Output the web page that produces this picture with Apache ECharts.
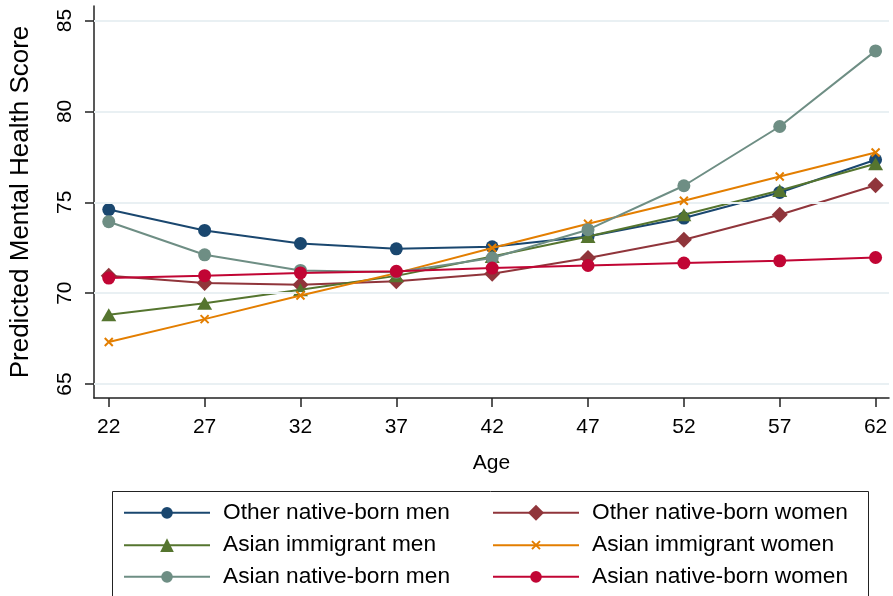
<!DOCTYPE html>
<html>
<head>
<meta charset="utf-8">
<script src="https://cdn.jsdelivr.net/npm/echarts@6/dist/echarts.min.js"></script>
<style>
  html, body { margin: 0; padding: 0; background: #fff; }
  #chart { width: 893px; height: 596px; }
</style>
</head>
<body>
<div id="chart"></div>
<script>
// Ages at which predicted scores are evaluated
const ages = [22, 27, 32, 37, 42, 47, 52, 57, 62];
const yTicks = [65, 70, 75, 80, 85];

// Predicted mental health score by group
const otherNativeMen   = [74.6, 73.45, 72.73, 72.44, 72.55, 73.12, 74.13, 75.54, 77.34];
const otherNativeWomen = [70.96, 70.56, 70.46, 70.65, 71.07, 71.93, 72.94, 74.31, 75.94];
const asianImmMen      = [68.81, 69.45, 70.19, 70.95, 72.02, 73.12, 74.31, 75.65, 77.12];
const asianImmWomen    = [67.31, 68.57, 69.87, 71.1, 72.48, 73.82, 75.08, 76.42, 77.74];
const asianNativeMen   = [73.93, 72.11, 71.25, 71.15, 71.93, 73.49, 75.91, 79.17, 83.33];
const asianNativeWomen = [70.83, 70.96, 71.11, 71.2, 71.38, 71.52, 71.66, 71.78, 71.96];

const FONT = 'Liberation Sans, Arial, sans-serif';

function pairs(vals) {
  return ages.map((a, i) => [a, vals[i]]);
}

// keyHeight controls the marker size drawn in the legend key
const groups = [
  { name: 'Other native-born men',   data: otherNativeMen,   color: '#1a476f', symbol: 'circle',   size: 13, keyHeight: 14.5 },
  { name: 'Other native-born women', data: otherNativeWomen, color: '#90353b', symbol: 'diamond',  size: 16, keyHeight: 20 },
  { name: 'Asian immigrant men',     data: asianImmMen,      color: '#55752f', symbol: 'triangle', size: [15, 13], keyHeight: 17 },
  { name: 'Asian immigrant women',   data: asianImmWomen,    color: '#e37e00', symbol: 'path://M0,0L10,10M0,10L10,0', size: 8, cross: true, keyHeight: 10 },
  { name: 'Asian native-born men',   data: asianNativeMen,   color: '#6e8e84', symbol: 'circle',   size: 13, keyHeight: 14.5 },
  { name: 'Asian native-born women', data: asianNativeWomen, color: '#c10534', symbol: 'circle',   size: 13, keyHeight: 14.5 }
];

const series = [
  // light horizontal gridlines at the y tick values
  {
    type: 'line',
    name: '_grid',
    data: [],
    z: 1,
    silent: true,
    markLine: {
      silent: true,
      symbol: 'none',
      label: { show: false },
      lineStyle: { color: '#e9f0f3', width: 2, type: 'solid' },
      data: yTicks.map(v => ({ yAxis: v }))
    }
  }
].concat(groups.map((g, i) => ({
  type: 'line',
  name: g.name,
  data: pairs(g.data),
  z: 2 + i,
  symbol: g.symbol,
  symbolSize: g.size,
  showSymbol: true,
  lineStyle: { color: g.color, width: 2 },
  itemStyle: g.cross
    ? { color: g.color, borderColor: g.color, borderWidth: 2 }
    : { color: g.color, borderWidth: 0 },
  emphasis: { disabled: true }
})));

// legend: two columns of three rows, one entry per component
const legendCols = [123, 492];
const legendRows = [512.7, 545, 576.7];
const FS = 22.7;
const legends = groups.map((g, i) => ({
  left: legendCols[i % 2],
  top: legendRows[Math.floor(i / 2)] - FS / 2,
  padding: 0,
  itemWidth: 86,
  itemHeight: g.keyHeight,
  selectedMode: false,
  textStyle: { fontFamily: FONT, fontSize: FS, color: '#000', lineHeight: FS, padding: [0, 0, 0, 8] },
  data: [g.name]
}));

const option = {
  animation: false,
  backgroundColor: '#fff',
  grid: { left: 94, right: 4, top: 6, bottom: 596 - 398, containLabel: false },
  xAxis: {
    type: 'value',
    min: 21.23,
    max: 62.7,
    name: 'Age',
    nameLocation: 'middle',
    nameGap: 55,
    nameTextStyle: { fontFamily: FONT, fontSize: 21, color: '#000' },
    axisLine: { show: true, lineStyle: { color: '#222', width: 1.5 } },
    axisTick: { show: true, length: 9, customValues: ages, lineStyle: { color: '#222', width: 1.5 } },
    axisLabel: { customValues: ages, margin: 19, fontFamily: FONT, fontSize: 21, color: '#000' },
    splitLine: { show: false }
  },
  yAxis: {
    type: 'value',
    min: 64.23,
    max: 85.8,
    name: 'Predicted Mental Health Score',
    nameLocation: 'middle',
    nameGap: 60,
    nameTextStyle: { fontFamily: FONT, fontSize: 26, color: '#000' },
    axisLine: { show: true, lineStyle: { color: '#222', width: 1.5 } },
    axisTick: { show: true, length: 9, customValues: yTicks, lineStyle: { color: '#222', width: 1.5 } },
    axisLabel: { customValues: yTicks, rotate: 90, margin: 18, fontFamily: FONT, fontSize: 21, color: '#000' },
    splitLine: { show: false }
  },
  legend: legends,
  graphic: [
    {
      type: 'rect',
      shape: { x: 112.5, y: 491.5, width: 756, height: 120 },
      style: { fill: 'none', stroke: '#222', lineWidth: 1 },
      silent: true,
      z: 0
    }
  ],
  series: series
};

const chart = echarts.init(document.getElementById('chart'), null, { renderer: 'canvas' });
chart.setOption(option);
</script>
</body>
</html>
